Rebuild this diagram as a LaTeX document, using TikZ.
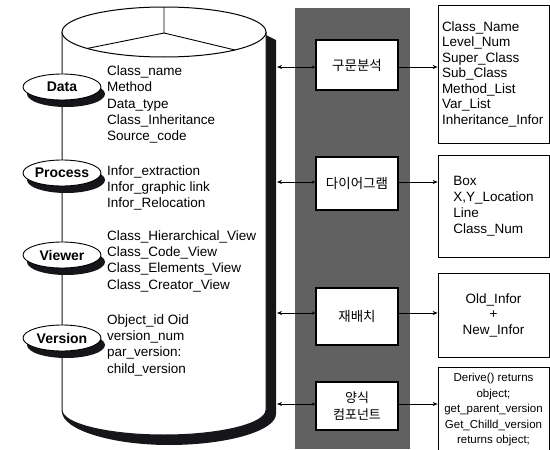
\documentclass[tikz,border=0pt]{standalone}
\usepackage{fontspec}
\setmainfont{Liberation Sans}
\newfontfamily\kr{Noto Sans CJK KR}
\usetikzlibrary{arrows.meta,shapes.geometric,calc}
\definecolor{shadowcol}{RGB}{22,22,26}
\begin{document}
\begin{tikzpicture}[x=1pt,y=-1pt,
  lst/.style={align=left, anchor=west, inner sep=0pt, font=\fontsize{13.5}{16.3}\selectfont},
  oval/.style={ellipse, draw, fill=white, line width=0.9pt, minimum width=78pt, minimum height=26pt,
     inner sep=0pt, font=\bfseries\fontsize{14}{14}\selectfont},
  ovalshadow/.style={fill=shadowcol},
  mbox/.style={draw, line width=1.8pt, fill=white, minimum width=82pt, inner sep=0pt,
     font=\kr\fontsize{13.5}{17}\selectfont, align=center},
  rbox/.style={draw, line width=0.7pt, fill=white, minimum width=111pt, inner xsep=4pt, inner ysep=0pt,
     font=\fontsize{13.5}{15.5}\selectfont},
  larr/.style={line width=0.8pt, {Stealth[length=5pt,width=4pt]}-{Stealth[length=3pt,width=3pt]}},
  rarr/.style={line width=0.8pt, -{Stealth[length=5pt,width=4pt]}}]
\path[use as bounding box] (0,0) rectangle (550,450);

% cylinder shadow
\fill[shadowcol] (262,33) -- (276,40) -- (276,414)
  .. controls (276,430.6) and (228,445) .. (169,445)
  .. controls (112,445) and (63,430) .. (62,412) -- cycle;
% cylinder body
\fill[white] (62,32) -- (62,410)
  .. controls (62,423.8) and (107.7,435) .. (164,435)
  .. controls (220.3,435) and (266,423.8) .. (266,410) -- (266,32) -- cycle;
\draw[line width=1pt, draw=shadowcol] (62,32) -- (62,410)
  .. controls (62,423.8) and (107.7,435) .. (164,435)
  .. controls (220.3,435) and (266,423.8) .. (266,410) -- (266,32);
% top ellipse
\draw[line width=1pt, fill=white] (164,32) ellipse [x radius=102pt, y radius=25pt];
\draw[line width=0.9pt] (164,7) -- (164,33) -- (87,48.5);
\draw[line width=0.9pt] (164,33) -- (235,50);

% oval shadows
\fill[ovalshadow] (66,94) ellipse [x radius=39pt, y radius=13pt];
\fill[ovalshadow] (66,180) ellipse [x radius=39pt, y radius=13pt];
\fill[ovalshadow] (66,262) ellipse [x radius=39pt, y radius=13pt];
\fill[ovalshadow] (66,345) ellipse [x radius=39pt, y radius=13pt];
% ovals
\node[oval] (data) at (62,87) {Data};
\node[oval] (process) at (62,173) {Process};
\node[oval] (viewer) at (62,255) {Viewer};
\node[oval] (version) at (62,338) {Version};

% lists in the cylinder
\node[lst] (ldata) at (107,104.5) {Class\_name\\Method\\Data\_type\\Class\_Inheritance\\Source\_code};
\node[lst] (lproc) at (107,188) {Infor\_extraction\\Infor\_graphic link\\Infor\_Relocation};
\node[lst] (lview) at (107,261) {Class\_Hierarchical\_View\\Class\_Code\_View\\Class\_Elements\_View\\Class\_Creator\_View};
\node[lst] (lvers) at (107,345) {Object\_id Oid\\version\_num\\par\_version:\\child\_version};

% dark column
\fill[black!62] (295,8) rectangle (410,449);

% middle boxes
\node[mbox, minimum height=50pt] (b1) at (357,65) {구문분석};
\node[mbox, minimum height=53pt] (b2) at (357,183.5) {다이어그램};
\node[mbox, minimum height=57pt] (b3) at (357,316.5) {재배치};
\node[mbox, minimum height=48pt, font=\kr\fontsize{13}{17}\selectfont] (b4) at (357,406) {양식\\컴포넌트};

% right boxes
\node[rbox, minimum height=138pt, text width=103pt, align=left] (r1) at (493.5,74)
  {Class\_Name\\Level\_Num\\Super\_Class\\Sub\_Class\\Method\_List\\Var\_List\\Inheritance\_Infor};
\node[rbox, minimum height=102pt, align=left, font=\fontsize{13.5}{16}\selectfont] (r2) at (493.5,206)
  {Box\\X,Y\_Location\\Line\\Class\_Num};
\node[rbox, minimum height=84pt, align=center, font=\fontsize{13.5}{15.5}\selectfont] (r3) at (493.5,315)
  {Old\_Infor\\+\\New\_Infor};
\node[rbox, minimum height=85pt, align=center, font=\fontsize{11.5}{15.5}\selectfont] (r4) at (493.5,410)
  {Derive() returns\\object;\\get\_parent\_version\\Get\_Chilld\_version\\returns object;};

% connectors
\coordinate (c1) at (277,67);
\coordinate (c2) at (277,182);
\coordinate (c3) at (277,313);
\coordinate (c4) at (277,404);
\draw[larr] (c1) -- (c1 -| b1.west);
\draw[larr] (c2) -- (c2 -| b2.west);
\draw[larr] (c3) -- (c3 -| b3.west);
\draw[larr] (c4) -- (c4 -| b4.west);
\draw[rarr] (c1 -| b1.east) -- (c1 -| r1.west);
\draw[rarr] (c2 -| b2.east) -- (c2 -| r2.west);
\draw[rarr] (c3 -| b3.east) -- (c3 -| r3.west);
\draw[rarr] (c4 -| b4.east) -- (c4 -| r4.west);
\end{tikzpicture}
\end{document}
